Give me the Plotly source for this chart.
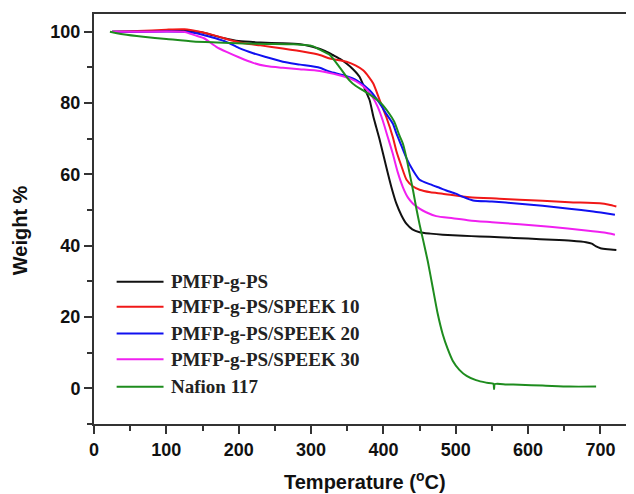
import plotly.graph_objects as go

# ---- data ----
names = ["PMFP-g-PS", "PMFP-g-PS/SPEEK 10", "PMFP-g-PS/SPEEK 20",
         "PMFP-g-PS/SPEEK 30", "Nafion 117"]
colors = ["#111111", "#f01818", "#1010f0", "#f020f0", "#1e8c1e"]

t_ps = [25, 50, 80, 110, 130, 150, 165, 180, 200, 230, 260, 285, 302, 320, 330,
        340, 349, 358, 367, 376, 381, 386, 390, 395, 404, 411, 418, 425, 432,
        440, 450, 465, 482, 510, 533, 560, 600, 634, 660, 680, 688, 694, 700,
        710, 722]
w_ps = [100, 100, 100.2, 100.3, 100.2, 99.8, 99.0, 98.2, 97.4, 97.0, 96.8, 96.5,
        95.8, 94.6, 93.5, 92.4, 91.1, 89.5, 87.4, 83.2, 80.8, 76.3, 73.3, 69.6,
        62.1, 56.5, 51.8, 48.5, 46.1, 44.6, 43.8, 43.4, 43.1, 42.8, 42.6, 42.4,
        42.0, 41.7, 41.4, 41.0, 40.6, 39.8, 39.3, 39.0, 38.8]

t_s10 = [25, 60, 100, 125, 146, 170, 192, 210, 230, 261, 290, 312, 326, 349,
         362, 372, 380, 386, 395, 404, 413, 418, 425, 432, 441, 450, 465, 482,
         519, 560, 588, 620, 657, 699, 712, 722]
w_s10 = [100, 100.2, 100.6, 100.7, 100.0, 98.8, 97.5, 96.7, 96.2, 95.3, 94.4,
         93.5, 92.5, 91.6, 90.5, 89.2, 87.3, 85.5, 80.8, 76.1, 70.5, 66.5, 62.3,
         58.5, 56.6, 55.7, 55.0, 54.6, 53.6, 53.2, 52.9, 52.6, 52.2, 51.9, 51.5,
         51.0]

t_s20 = [25, 60, 100, 128, 150, 168, 183, 200, 220, 240, 261, 285, 312, 326,
         345, 363, 381, 395, 404, 413, 418, 425, 432, 441, 450, 465, 478, 487,
         500, 510, 524, 550, 588, 620, 657, 690, 720]
w_s20 = [100, 100, 100.1, 100.0, 99.2, 98.2, 97.2, 95.5, 94.0, 92.8, 91.6, 90.8,
         89.9, 88.8, 87.8, 86.4, 83.6, 79.9, 77.0, 74.3, 71.5, 68.0, 64.5, 61.1,
         58.5, 57.2, 56.2, 55.5, 54.6, 53.7, 52.7, 52.4, 51.8, 51.2, 50.4, 49.6,
         48.7]

t_s30 = [25, 60, 100, 124, 140, 152, 169, 184, 201, 220, 238, 261, 284, 312,
         339, 355, 367, 377, 385, 392, 399, 406, 413, 420, 427, 434, 441, 450,
         459, 473, 496, 519, 550, 588, 630, 680, 705, 720]
w_s30 = [100, 100, 100.1, 100, 99.0, 98.2, 95.8, 94.3, 92.8, 91.3, 90.4, 89.9,
         89.5, 89.0, 87.8, 86.8, 85.5, 83.8, 81.7, 79.0, 75.2, 70.5, 65.8, 60.5,
         56.4, 53.5, 51.8, 50.4, 49.4, 48.3, 47.7, 47.1, 46.6, 46.0, 45.3, 44.3,
         43.7, 43.1]

t_naf = [22, 40, 68, 100, 137, 170, 207, 240, 276, 302, 312, 326, 339, 353,
         362, 372, 385, 395, 408, 415, 422, 427, 432, 436, 441, 445.5, 450, 455,
         461.5, 468, 475, 482, 489, 496, 505, 515, 528, 542, 552, 553, 554, 570,
         588, 620, 657, 694]
w_naf = [100, 99.3, 98.6, 98.0, 97.3, 97.0, 96.7, 96.6, 96.5, 96.0, 95.0, 93.5,
         90.2, 86.4, 84.8, 83.6, 81.9, 80.3, 77.1, 74.8, 71.0, 68.6, 64.5, 60.5,
         55.5, 50.5, 46.0, 41.5, 35.5, 28.5, 21.0, 15.2, 11.0, 7.7, 5.2, 3.5,
         2.3, 1.6, 1.3, -0.2, 1.2, 1.1, 1.0, 0.8, 0.5, 0.5]

series = [(t_ps, w_ps), (t_s10, w_s10), (t_s20, w_s20), (t_s30, w_s30),
          (t_naf, w_naf)]

x_ticks = [0, 100, 200, 300, 400, 500, 600, 700]
y_ticks = [0, 20, 40, 60, 80, 100]

fig = go.Figure()
for (t, w), name, c in zip(series, names, colors):
    fig.add_trace(go.Scatter(x=t, y=w, mode="lines", name=name,
                             line=dict(color=c, width=2, shape="spline",
                                       smoothing=0.6),
                             showlegend=False))

# manual legend (line samples + labels)
leg_y = [0.347, 0.286, 0.221, 0.158, 0.091]
for name, c, yy in zip(names, colors, leg_y):
    fig.add_shape(type="line", xref="paper", yref="paper",
                  x0=0.042, x1=0.129, y0=yy, y1=yy,
                  line=dict(color=c, width=2))
    fig.add_annotation(xref="paper", yref="paper", x=0.139, y=yy,
                       xanchor="left", yanchor="middle", showarrow=False,
                       text=name,
                       font=dict(family="Liberation Serif", size=19,
                                 color="#222222", weight="bold"))

# axis titles
fig.add_annotation(xref="paper", yref="paper", x=0.503, y=-0.137,
                   xanchor="center", yanchor="middle", showarrow=False,
                   text="Temperature (<sup>o</sup>C)",
                   font=dict(family="Liberation Sans", size=20,
                             color="#111111", weight="bold"))
fig.add_annotation(xref="paper", yref="paper", x=-0.137, y=0.473,
                   xanchor="center", yanchor="middle", showarrow=False,
                   textangle=-90, text="Weight %",
                   font=dict(family="Liberation Sans", size=20,
                             color="#111111", weight="bold"))

axis_font = dict(family="Liberation Sans", size=18, color="#111111",
                 weight="bold")
fig.update_xaxes(range=[0, 745], tickvals=x_ticks, ticks="outside", ticklen=8,
                 tickwidth=2, tickcolor="#333333", showline=True, linewidth=2,
                 linecolor="#333333", mirror=True, showgrid=False,
                 zeroline=False, tickfont=axis_font,
                 minor=dict(dtick=50, tick0=0, ticks="outside", ticklen=5,
                            tickwidth=2, tickcolor="#333333", showgrid=False))
fig.update_yaxes(range=[-10, 105], tickvals=y_ticks, ticks="outside", ticklen=8,
                 tickwidth=2, tickcolor="#333333", showline=True, linewidth=2,
                 linecolor="#333333", mirror=False, showgrid=False,
                 zeroline=False, tickfont=axis_font,
                 minor=dict(dtick=10, tick0=0, ticks="outside", ticklen=5,
                            tickwidth=2, tickcolor="#333333", showgrid=False))

# page has an 8px body margin, so the figure is 8px smaller on each axis
fig.update_layout(width=626, height=486,
                  margin=dict(l=86, r=1, t=6, b=70),
                  paper_bgcolor="white", plot_bgcolor="white")

fig.write_html("out.html")
